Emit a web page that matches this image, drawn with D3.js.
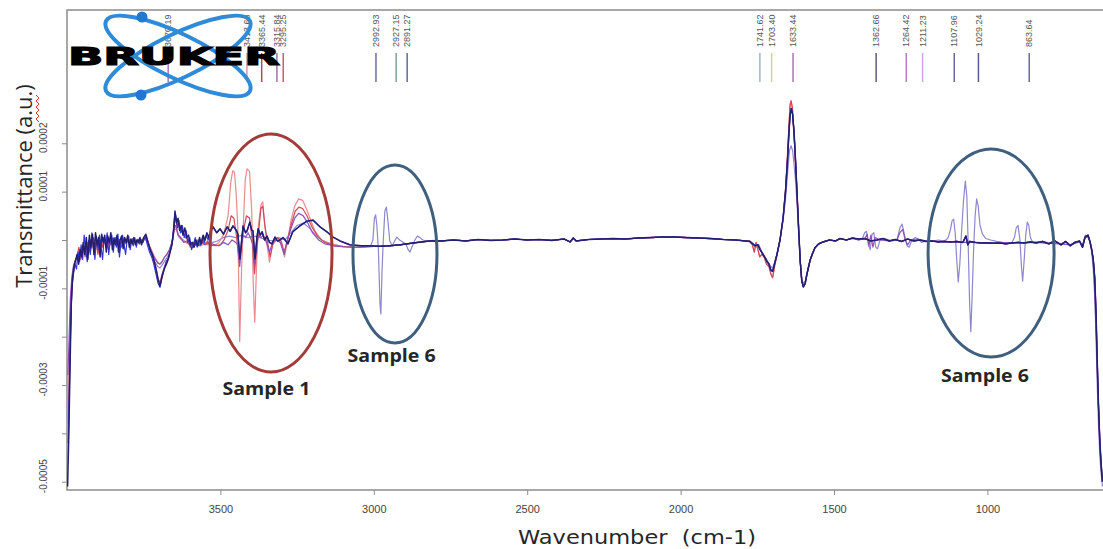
<!DOCTYPE html>
<html>
<head>
<meta charset="utf-8">
<script src="https://cdn.jsdelivr.net/npm/d3@7"></script>
<style>
  html, body { margin: 0; padding: 0; background: #fff; }
  svg { display: block; }
</style>
</head>
<body>
<svg width="1103" height="549"></svg>
<script>
// values are in units of 1e-4 a.u.
var UNIT = 1e-4;

var wnTicks = [3500, 3000, 2500, 2000, 1500, 1000];
var yTicks = [-5, -4, -3, -2, -1, 0, 1, 2];
var yTickLabels = ["-0.0005", "", "-0.0003", "", "-0.0001", "", "0.0001", "0.0002"];

var peakWn = [3670.19, 3413.68, 3365.44, 3315.84, 3295.25, 2992.93, 2927.15, 2891.27,
              1741.62, 1703.40, 1633.44, 1362.66, 1264.42, 1211.23, 1107.96, 1029.24, 863.64];
var peakColors = ["#a878b0", "#c9a0a8", "#a85050", "#a070b0", "#c86060", "#6c6ca0", "#7ea0a0", "#5c6ca0",
                  "#9ab8c4", "#f0c48c", "#b070b8", "#5a5a80", "#b080b8", "#d0a4dc", "#686890", "#5a5a90", "#6a6a98"];

// --- spectra, split into regions [wavenumber, value] ---
var navyLeft = [[3998,-5.1],[3994,-4.0],[3990,-2.6],[3986,-1.3],[3982,-0.8],[3977,-0.55],[3972,-0.42],[3967,-0.3],[3962,-0.5],[3957,-0.2],[3952,-0.35],[3947,-0.05],[3942,-0.3],[3937,0.05],[3932,-0.4],[3927,0.1],[3922,-0.15],[3917,0.12],[3912,-0.3],[3907,0.15],[3902,-0.1],[3897,0.05],[3892,-0.35],[3887,0.12],[3882,-0.05],[3877,0.1],[3872,-0.25],[3867,0.08],[3862,-0.05],[3857,0.15],[3852,-0.2],[3847,0.02],[3842,-0.1],[3837,0.1],[3832,-0.25],[3827,0.0],[3822,0.08],[3817,-0.18],[3812,0.05],[3807,-0.05],[3802,0.1],[3797,-0.15],[3792,0.02],[3787,-0.08],[3782,0.05],[3777,-0.1],[3772,0.0],[3767,-0.05],[3762,0.05],[3757,-0.1],[3750,0.05],[3743,0.12],[3736,-0.05],[3729,-0.2],[3722,-0.3],[3715,-0.45],[3708,-0.65],[3702,-0.85],[3697,-0.95],[3690,-0.75],[3683,-0.6],[3676,-0.5],[3670,-0.4],[3664,-0.25],[3658,-0.1],[3652,0.2],[3648,0.6],[3643,0.35],[3638,0.45],[3633,0.2],[3628,0.3],[3622,0.1],[3616,0.25],[3610,0.05],[3604,0.1],[3598,-0.1],[3592,-0.05],[3586,-0.15],[3580,0.0],[3574,-0.12],[3568,0.05],[3562,-0.08],[3556,0.1],[3550,0.0],[3544,0.15],[3538,0.05],[3532,0.2]];
var blueLeft = [[3996,-4.2],[3992,-3.0],[3988,-1.8],[3984,-1.0],[3979,-0.7],[3974,-0.5],[3969,-0.6],[3964,-0.25],[3959,-0.45],[3954,-0.1],[3949,-0.4],[3944,0.1],[3939,-0.2],[3934,-0.45],[3929,0.0],[3924,-0.3],[3919,0.15],[3914,-0.1],[3909,-0.4],[3904,0.08],[3899,-0.2],[3894,0.1],[3889,-0.15],[3884,-0.4],[3879,0.05],[3874,-0.1],[3869,0.15],[3864,-0.3],[3859,0.0],[3854,0.1],[3849,-0.25],[3844,0.05],[3839,-0.15],[3834,0.12],[3829,-0.35],[3824,-0.05],[3819,0.1],[3814,-0.1],[3809,-0.3],[3804,0.0],[3799,0.08],[3794,-0.2],[3789,0.0],[3784,-0.12],[3779,0.05],[3774,-0.15],[3769,0.02],[3764,-0.08],[3759,0.0],[3752,-0.05],[3745,0.08],[3738,-0.1],[3731,-0.25],[3724,-0.35],[3717,-0.5],[3710,-0.7],[3703,-0.9],[3697,-0.98],[3691,-0.8],[3684,-0.62],[3677,-0.45],[3670,-0.38],[3663,-0.2],[3656,0.0],[3650,0.45],[3645,0.5],[3640,0.25],[3635,0.4],[3630,0.15],[3624,0.3],[3618,0.05],[3612,0.2],[3606,-0.05],[3600,0.05],[3594,-0.2],[3588,-0.1],[3582,0.05],[3576,-0.15],[3570,0.0],[3564,-0.1],[3558,0.08],[3552,-0.05],[3546,0.1],[3540,0.0],[3532,0.15]];
var purpleLeft = [[3997,-2.8],[3993,-2.0],[3989,-1.2],[3984,-0.75],[3978,-0.5],[3970,-0.4],[3962,-0.25],[3954,-0.3],[3946,-0.1],[3938,-0.2],[3930,-0.05],[3922,-0.15],[3914,0.05],[3906,-0.1],[3898,0.0],[3890,-0.12],[3882,0.05],[3874,-0.08],[3866,0.0],[3858,-0.1],[3850,0.05],[3842,-0.05],[3834,0.0],[3826,-0.1],[3818,0.02],[3810,-0.06],[3802,0.0],[3794,-0.05],[3786,0.02],[3778,-0.04],[3770,0.0],[3760,-0.05],[3750,0.0],[3742,0.05],[3735,-0.05],[3728,-0.18],[3720,-0.3],[3712,-0.4],[3704,-0.48],[3697,-0.5],[3690,-0.45],[3682,-0.35],[3674,-0.3],[3666,-0.2],[3658,-0.05],[3651,0.3],[3645,0.3],[3638,0.1],[3630,0.05],[3620,-0.05],[3610,-0.02],[3600,-0.1],[3590,-0.15],[3580,-0.08],[3570,-0.12],[3560,-0.05],[3550,-0.1],[3540,-0.05],[3530,-0.12]];
var redLeft = [[3995,-3.5],[3990,-2.2],[3985,-1.1],[3980,-0.65],[3974,-0.45],[3968,-0.35],[3961,-0.15],[3955,-0.4],[3948,-0.1],[3941,-0.35],[3934,-0.05],[3927,-0.25],[3920,0.05],[3913,-0.2],[3906,-0.05],[3899,-0.3],[3892,0.0],[3885,-0.15],[3878,0.02],[3871,-0.2],[3864,-0.05],[3857,0.0],[3850,-0.12],[3843,0.05],[3836,-0.1],[3829,0.0],[3822,-0.15],[3815,0.02],[3808,-0.08],[3801,0.0],[3794,-0.1],[3787,0.02],[3780,-0.05],[3772,0.0],[3764,-0.08],[3756,0.0],[3748,0.02],[3740,0.05],[3733,-0.1],[3726,-0.25],[3718,-0.4],[3710,-0.6],[3703,-0.8],[3697,-0.88],[3690,-0.7],[3682,-0.55],[3675,-0.45],[3668,-0.35],[3660,-0.15],[3653,0.1],[3648,0.5],[3642,0.3],[3636,0.35],[3630,0.15],[3622,0.2],[3614,0.05],[3606,0.0],[3598,-0.15],[3590,-0.05],[3582,-0.1],[3574,0.0],[3566,-0.12],[3558,0.0],[3550,-0.1],[3542,-0.02],[3534,-0.12],[3526,-0.08]];
var salmonLeft = [[3994,-3.0],[3988,-1.6],[3982,-0.8],[3975,-0.5],[3966,-0.3],[3956,-0.2],[3946,-0.25],[3936,-0.1],[3926,-0.2],[3916,-0.05],[3906,-0.15],[3896,0.0],[3886,-0.1],[3876,-0.02],[3866,-0.1],[3856,0.0],[3846,-0.08],[3836,0.0],[3826,-0.05],[3816,0.02],[3806,-0.05],[3796,0.0],[3786,-0.04],[3776,0.0],[3766,-0.03],[3756,0.0],[3745,0.02],[3735,-0.08],[3725,-0.2],[3715,-0.35],[3705,-0.45],[3697,-0.5],[3688,-0.42],[3678,-0.32],[3668,-0.22],[3658,-0.05],[3650,0.25],[3643,0.2],[3635,0.05],[3625,0.0],[3612,-0.05],[3600,-0.1],[3588,-0.12],[3576,-0.1],[3564,-0.12],[3552,-0.08],[3540,-0.1]];
var lavLeft = [[3996,-3.8],[3991,-2.2],[3986,-1.1],[3980,-0.6],[3972,-0.4],[3962,-0.3],[3952,-0.15],[3942,-0.25],[3932,-0.1],[3922,-0.2],[3912,-0.05],[3902,-0.15],[3892,0.0],[3882,-0.1],[3872,0.02],[3862,-0.08],[3852,0.0],[3842,-0.06],[3832,0.02],[3822,-0.05],[3812,0.0],[3800,-0.04],[3788,0.02],[3776,-0.03],[3764,0.0],[3752,0.02],[3742,0.0],[3733,-0.12],[3724,-0.3],[3714,-0.45],[3704,-0.55],[3697,-0.58],[3688,-0.5],[3678,-0.4],[3668,-0.3],[3658,-0.1],[3650,0.3],[3644,0.25],[3636,0.1],[3625,0.02],[3612,-0.05],[3600,-0.08],[3585,-0.05],[3570,-0.1],[3555,-0.05],[3540,-0.08],[3525,-0.05]];

var navyS1 = [[3524,0.27],[3512,0.15],[3501,0.23],[3490,0.12],[3478,0.27],[3468,0.18],[3459,0.29],[3448,0.2],[3443,0.12],[3436,-0.39],[3430,0.05],[3426,0.29],[3418,0.15],[3413,0.19],[3404,0.37],[3398,0.2],[3394,0.19],[3387,-0.39],[3381,0.05],[3377,0.23],[3370,0.1],[3364,0.17],[3356,0.0],[3348,0.08],[3340,-0.05],[3332,-0.08],[3322,0.06],[3314,-0.02],[3306,0.0],[3296,0.05],[3289,0.0],[3280,-0.08],[3264,0.17],[3241,0.29],[3218,0.39],[3198,0.41],[3175,0.27],[3153,0.17],[3133,0.06],[3110,-0.02],[3078,-0.1],[3040,-0.12],[3012,-0.12],[2980,-0.13],[2950,-0.12],[2915,-0.1],[2870,-0.06],[2817,-0.02]];
var purpleS1 = [[3520,-0.1],[3505,-0.12],[3490,-0.05],[3475,-0.1],[3462,0.0],[3450,-0.05],[3443,-0.1],[3437,-0.55],[3431,-0.1],[3426,0.1],[3418,0.05],[3410,0.15],[3402,0.05],[3394,-0.1],[3388,-0.5],[3382,-0.1],[3376,0.1],[3368,0.05],[3360,0.1],[3350,-0.05],[3340,-0.25],[3330,-0.05],[3318,0.0],[3305,-0.05],[3292,-0.3],[3284,-0.05],[3272,0.2],[3258,0.45],[3245,0.55],[3230,0.5],[3215,0.35],[3200,0.15],[3180,0.0],[3160,-0.08],[3130,-0.12],[3100,-0.14],[3060,-0.15],[3020,-0.14],[2980,-0.13],[2950,-0.12],[2915,-0.1],[2870,-0.06],[2817,-0.02]];
var redS1 = [[3515,-0.12],[3500,-0.1],[3488,0.0],[3475,0.2],[3465,0.5],[3456,0.45],[3448,0.1],[3440,-0.4],[3433,-0.2],[3425,0.2],[3415,0.5],[3405,0.45],[3396,0.0],[3389,-0.7],[3382,-0.2],[3375,0.2],[3368,0.65],[3362,0.7],[3355,0.3],[3346,-0.05],[3338,-0.35],[3328,-0.05],[3315,0.05],[3302,-0.02],[3292,-0.25],[3283,-0.05],[3270,0.3],[3256,0.6],[3244,0.68],[3232,0.65],[3218,0.5],[3200,0.25],[3180,0.05],[3160,-0.05],[3130,-0.12],[3100,-0.14],[3060,-0.15],[3020,-0.14],[2980,-0.13],[2950,-0.12],[2915,-0.1],[2870,-0.06],[2817,-0.02]];
var salmonS1 = [[3530,-0.1],[3520,-0.12],[3505,-0.05],[3490,0.1],[3475,0.5],[3466,1.2],[3460,1.43],[3454,1.4],[3448,0.9],[3443,0.2],[3437,-2.1],[3431,-0.6],[3426,0.2],[3419,1.25],[3413,1.47],[3405,1.42],[3398,0.6],[3393,-0.9],[3388,-1.7],[3382,-0.5],[3376,0.3],[3368,0.72],[3362,0.79],[3356,0.35],[3348,-0.1],[3340,-0.46],[3331,-0.12],[3318,0.0],[3302,-0.05],[3291,-0.35],[3282,-0.05],[3270,0.4],[3258,0.7],[3245,0.85],[3232,0.82],[3220,0.65],[3208,0.45],[3193,0.2],[3170,0.0],[3140,-0.08],[3100,-0.14],[3060,-0.15],[3020,-0.14],[2980,-0.13],[2950,-0.12],[2915,-0.1],[2870,-0.06],[2817,-0.02]];
var lavS1 = [[3510,-0.02],[3490,0.05],[3470,0.08],[3450,0.05],[3430,0.1],[3410,0.05],[3390,0.08],[3370,0.05],[3350,0.0],[3330,-0.02],[3310,0.05],[3290,0.0],[3270,0.15],[3250,0.3],[3230,0.35],[3210,0.25],[3190,0.1],[3170,0.0],[3140,-0.08],[3100,-0.13],[3060,-0.15],[3025,-0.14],[3010,-0.12],[3003,0.0],[2998,0.45],[2994,0.52],[2990,0.3],[2985,-0.2],[2980,-1.3],[2977,-1.53],[2973,-0.6],[2969,0.0],[2964,0.6],[2959,0.68],[2954,0.4],[2948,-0.02],[2940,-0.12],[2932,-0.02],[2925,0.06],[2916,0.0],[2906,-0.04],[2896,-0.08],[2888,-0.2],[2882,-0.25],[2874,-0.12],[2866,0.0],[2858,0.08],[2850,0.05],[2840,0.0],[2825,-0.03],[2810,-0.01]];

var midFlat = [[2780,-0.02],[2740,0.0],[2700,-0.02],[2660,0.01],[2620,-0.01],[2580,0.0],[2540,0.02],[2500,0.0],[2460,0.01],[2420,-0.01],[2380,0.02],[2360,-0.04],[2350,0.04],[2340,-0.02],[2300,0.01],[2260,0.02],[2220,0.03],[2180,0.02],[2140,0.04],[2100,0.05],[2060,0.06],[2020,0.06],[1980,0.05],[1940,0.04],[1900,0.03],[1860,0.01],[1820,0.0],[1790,-0.02]];

var peakNavy = [[1775,-0.03],[1765,-0.08],[1757,-0.12],[1748,-0.1],[1741,-0.2],[1731,-0.3],[1724,-0.38],[1718,-0.45],[1712,-0.5],[1706,-0.62],[1700,-0.65],[1694,-0.5],[1686,-0.3],[1676,0.0],[1666,0.45],[1658,1.0],[1652,1.6],[1647,2.2],[1643,2.6],[1639,2.72],[1635,2.6],[1630,2.2],[1625,1.6],[1620,0.9],[1615,0.2],[1610,-0.45],[1605,-0.85],[1600,-0.97],[1594,-0.9],[1588,-0.7],[1578,-0.42],[1570,-0.28],[1562,-0.16],[1550,-0.08],[1535,-0.04],[1515,0.0],[1495,-0.02],[1480,0.03]];
var peakRed = [[1775,-0.02],[1766,-0.1],[1760,-0.25],[1754,-0.05],[1748,-0.2],[1742,-0.35],[1736,-0.3],[1728,-0.35],[1720,-0.5],[1712,-0.55],[1705,-0.72],[1700,-0.78],[1694,-0.55],[1686,-0.32],[1676,0.0],[1666,0.45],[1658,1.05],[1652,1.7],[1647,2.35],[1643,2.8],[1640,2.88],[1636,2.75],[1631,2.3],[1626,1.65],[1620,0.9],[1615,0.2],[1610,-0.45],[1605,-0.85],[1600,-0.95],[1594,-0.9],[1588,-0.7],[1578,-0.42],[1570,-0.28],[1562,-0.16],[1550,-0.08],[1535,-0.04],[1515,0.0],[1495,-0.02],[1480,0.03]];
var peakLav = [[1775,-0.02],[1765,-0.06],[1755,-0.15],[1745,-0.1],[1735,-0.25],[1725,-0.35],[1715,-0.45],[1706,-0.55],[1700,-0.58],[1693,-0.45],[1685,-0.28],[1676,0.0],[1666,0.4],[1658,0.85],[1651,1.4],[1645,1.85],[1640,1.95],[1635,1.85],[1630,1.55],[1625,1.2],[1620,0.7],[1615,0.1],[1610,-0.45],[1605,-0.8],[1600,-0.9],[1594,-0.85],[1588,-0.68],[1578,-0.42],[1570,-0.28],[1562,-0.16],[1550,-0.08],[1535,-0.04],[1515,0.0],[1495,-0.02],[1480,0.03]];

var tailNavy = [[1460,0.0],[1440,0.04],[1420,0.02],[1400,0.03],[1380,-0.02],[1360,0.0],[1340,0.03],[1320,-0.02],[1300,0.01],[1280,-0.03],[1260,0.02],[1240,-0.02],[1220,0.0],[1200,-0.03],[1180,-0.02],[1160,-0.04],[1140,-0.03],[1120,-0.04],[1100,-0.03],[1080,-0.05],[1070,0.08],[1064,-0.1],[1058,-0.03],[1040,-0.05],[1020,-0.06],[1000,-0.06],[980,-0.07],[960,-0.06],[940,-0.08],[920,-0.06],[900,-0.05],[880,-0.06],[860,-0.04],[840,-0.06],[820,-0.03],[800,-0.08],[780,-0.02],[760,-0.1],[745,-0.03],[730,-0.12],[715,-0.05],[700,-0.02],[690,-0.15],[682,0.05],[672,0.1],[665,-0.05],[660,-0.2],[655,-0.4],[650,-0.8],[646,-1.5],[642,-2.5],[638,-3.4],[634,-4.1],[630,-4.6],[625,-5.0]];
var tailPurple = [[1460,0.0],[1440,0.03],[1420,0.0],[1400,0.02],[1392,0.12],[1386,-0.12],[1380,0.1],[1373,-0.15],[1366,0.05],[1350,0.0],[1320,-0.02],[1295,0.0],[1285,0.15],[1276,0.22],[1268,0.0],[1260,-0.1],[1250,0.0],[1230,0.02],[1200,-0.02],[1160,-0.03],[1120,-0.04],[1080,-0.05],[1040,-0.05],[1000,-0.06],[960,-0.06],[920,-0.06],[880,-0.06],[840,-0.05],[800,-0.07],[760,-0.08],[730,-0.1],[700,-0.04],[690,-0.1],[680,0.1],[670,0.05],[662,-0.15],[656,-0.4],[651,-0.9],[646,-1.8],[641,-2.9],[636,-3.8],[630,-4.5],[625,-5.0]];
var tailLav = [[1460,0.0],[1440,0.03],[1420,0.0],[1408,0.02],[1400,0.15],[1394,0.18],[1388,-0.1],[1382,-0.2],[1376,0.12],[1370,0.15],[1364,-0.15],[1358,-0.18],[1350,0.0],[1330,0.02],[1310,-0.02],[1295,0.0],[1285,0.25],[1278,0.33],[1270,0.1],[1262,-0.12],[1255,-0.15],[1246,0.0],[1235,0.05],[1225,0.02],[1215,-0.05],[1200,-0.02],[1180,-0.03],[1160,0.0],[1145,-0.02],[1135,0.0],[1128,0.05],[1121,0.2],[1115,0.4],[1110,0.43],[1105,0.15],[1100,-0.4],[1095,-0.87],[1090,-0.5],[1084,0.2],[1078,0.8],[1072,1.22],[1067,0.9],[1063,0.0],[1058,-1.3],[1054,-1.9],[1050,-1.2],[1045,-0.2],[1040,0.5],[1035,0.85],[1030,0.7],[1024,0.3],[1016,0.12],[1005,0.03],[990,0.0],[970,-0.03],[950,-0.05],[930,-0.06],[920,-0.05],[912,0.05],[906,0.25],[900,0.3],[894,0.0],[889,-0.55],[885,-0.85],[880,-0.4],[875,0.1],[870,0.37],[865,0.3],[860,0.05],[852,-0.05],[840,-0.04],[820,-0.03],[800,-0.06],[780,-0.03],[760,-0.08],[745,-0.04],[730,-0.1],[715,-0.05],[700,-0.03],[690,-0.12],[682,0.08],[672,0.05],[665,-0.05],[660,-0.25],[655,-0.6],[650,-1.2],[646,-2.0],[642,-3.0],[638,-3.8],[634,-4.4],[630,-4.8],[625,-5.1]];

// samples, drawn in this order (last on top)
var sampleNames = ["Sample 6", "Sample 1", "Sample 2", "Sample 3", "Sample 4", "Sample 5"];
var sampleData = [
    lavLeft.concat(lavS1, midFlat, peakLav, tailLav),
    salmonLeft.concat(salmonS1, midFlat, peakRed, tailNavy),
    redLeft.concat(redS1, midFlat, peakRed, tailNavy),
    purpleLeft.concat(purpleS1, midFlat, peakNavy, tailPurple),
    blueLeft.concat(navyS1, midFlat, peakNavy, tailNavy),
    navyLeft.concat(navyS1, midFlat, peakNavy, tailNavy)
];
var sampleColors = ["#8c88cc", "#e88a8e", "#cc4a5c", "#8e4fb5", "#3535d5", "#22206e"];
var sampleWidths = [1.2, 1.2, 1.2, 1.2, 1.2, 1.5];

// annotation ellipses and labels (centre in data units)
var noteWn = [3335, 2931, 988];
var noteVal = [-0.27, -0.29, -0.27];
var noteRx = [61, 42, 63];
var noteRy = [119, 89, 104];
var noteColors = ["#a33c38", "#3f5f7f", "#3f5f7f"];
var labelWn = [3350, 2942, 1008];
var labelVal = [-3.2, -2.52, -2.93];
var labelText = ["Sample 1", "Sample 6", "Sample 6"];

(function () {
    var svg = d3.select("svg");
    var left = 67, top = 10, bottom = 490;
    var pxPerWn = 0.3068;

    var x = d3.scaleLinear().domain([4000, 600]).range([left, left + 3400 * pxPerWn]);
    var y = d3.scaleLinear().domain([-5 * UNIT, 2 * UNIT]).range([481.7, 143.3]);

    svg.append("defs").append("clipPath").attr("id", "plotclip")
        .append("rect").attr("x", left).attr("y", top).attr("width", 1110 - left).attr("height", bottom - top);

    // frame
    svg.append("rect")
        .attr("x", left).attr("y", top)
        .attr("width", 1200).attr("height", bottom - top)
        .attr("fill", "none").attr("stroke", "#8c8c8c").attr("stroke-width", 1.5);

    // x axis
    var gx = svg.append("g")
        .attr("transform", "translate(0," + bottom + ")")
        .call(d3.axisBottom(x).tickValues(wnTicks).tickSize(5).tickPadding(10).tickFormat(d3.format("d")));
    gx.select(".domain").remove();
    gx.selectAll("line").attr("stroke", "#8c8c8c");
    gx.selectAll("text").attr("fill", "#444").attr("font-size", 11)
        .attr("font-family", "'Liberation Sans Narrow', 'Liberation Sans', Arial, sans-serif");

    // y axis
    var gy = svg.append("g")
        .attr("transform", "translate(" + left + ",0)")
        .call(d3.axisLeft(y).tickValues(yTicks.map(function (d) { return d * UNIT; })).tickSize(5)
            .tickFormat(function (d, i) { return yTickLabels[i]; }));
    gy.select(".domain").remove();
    gy.selectAll("line").attr("stroke", "#8c8c8c");
    gy.selectAll("text")
        .attr("x", null).attr("dy", "0.35em")
        .attr("transform", "translate(-24,-6) rotate(-90)")
        .attr("text-anchor", "middle")
        .attr("fill", "#444").attr("font-size", 10)
        .attr("font-family", "'Liberation Sans Narrow', 'Liberation Sans', Arial, sans-serif");

    // spectra
    var line = d3.line()
        .x(function (d) { return x(d[0]); })
        .y(function (d) { return y(d[1] * UNIT); });

    svg.append("g").attr("clip-path", "url(#plotclip)")
        .selectAll("path")
        .data(sampleData)
        .enter().append("path")
        .attr("d", line)
        .attr("fill", "none")
        .attr("stroke", function (d, i) { return sampleColors[i]; })
        .attr("stroke-width", function (d, i) { return sampleWidths[i]; })
        .attr("stroke-linejoin", "round");

    // peak markers
    var peaks = svg.append("g").selectAll("g")
        .data(peakWn)
        .enter().append("g");
    peaks.append("line")
        .attr("x1", function (d) { return x(d); }).attr("x2", function (d) { return x(d); })
        .attr("y1", 53).attr("y2", 82)
        .attr("stroke", function (d, i) { return peakColors[i]; })
        .attr("stroke-width", 1.5);
    peaks.append("text")
        .attr("transform", function (d) { return "translate(" + x(d) + ",47) rotate(-90)"; })
        .attr("dy", "0.35em")
        .attr("fill", "#555")
        .attr("font-size", 9)
        .attr("font-family", "'Liberation Sans Narrow', 'Liberation Sans', Arial, sans-serif")
        .text(function (d) { return d.toFixed(2); });

    // annotations
    svg.append("g").selectAll("ellipse")
        .data(noteWn)
        .enter().append("ellipse")
        .attr("cx", function (d) { return x(d); })
        .attr("cy", function (d, i) { return y(noteVal[i] * UNIT); })
        .attr("rx", function (d, i) { return noteRx[i]; })
        .attr("ry", function (d, i) { return noteRy[i]; })
        .attr("fill", "none")
        .attr("stroke", function (d, i) { return noteColors[i]; })
        .attr("stroke-width", 3);

    svg.append("g").selectAll("text")
        .data(labelText)
        .enter().append("text")
        .attr("x", function (d, i) { return x(labelWn[i]); })
        .attr("y", function (d, i) { return y(labelVal[i] * UNIT); })
        .attr("text-anchor", "middle")
        .attr("font-family", "'Open Sans', 'Noto Sans', sans-serif")
        .attr("font-weight", "bold")
        .attr("font-size", 18)
        .attr("textLength", 88).attr("lengthAdjust", "spacingAndGlyphs")
        .attr("fill", "#262626")
        .text(function (d) { return d; });

    // Bruker logo
    var logo = svg.append("g");
    [-26, 26].forEach(function (a) {
        logo.append("ellipse")
            .attr("cx", 178).attr("cy", 56).attr("rx", 80).attr("ry", 22)
            .attr("transform", "rotate(" + a + ",178,56)")
            .attr("fill", "none").attr("stroke", "#2f8ad8").attr("stroke-width", 4);
    });
    logo.append("circle").attr("cx", 142).attr("cy", 17).attr("r", 5.5).attr("fill", "#1f78d1");
    logo.append("circle").attr("cx", 141).attr("cy", 95).attr("r", 5.5).attr("fill", "#1f78d1");
    logo.append("text")
        .attr("x", 68).attr("y", 65)
        .attr("textLength", 212).attr("lengthAdjust", "spacingAndGlyphs")
        .attr("font-family", "'DejaVu Sans', sans-serif").attr("font-weight", "bold")
        .attr("font-size", 25).attr("fill", "#000")
        .attr("stroke", "#000").attr("stroke-width", 1.2)
        .text("BRUKER");

    // axis titles
    svg.append("text")
        .attr("transform", "translate(32,186) rotate(-90)")
        .attr("text-anchor", "middle")
        .attr("font-family", "'Open Sans', 'Noto Sans', sans-serif")
        .attr("font-size", 22).attr("fill", "#262626")
        .text("Transmittance (a.u.)");
    // red spell-check squiggle under "a.u."
    var sq = d3.range(0, 10).map(function (i) { return [i % 2 ? 39 : 36, 95 + i * 3]; });
    svg.append("path").attr("d", d3.line()(sq))
        .attr("fill", "none").attr("stroke", "#e03030").attr("stroke-width", 1);

    svg.append("text")
        .attr("x", 637).attr("y", 544)
        .attr("text-anchor", "middle")
        .attr("font-family", "'DejaVu Sans', sans-serif")
        .attr("font-size", 20).attr("fill", "#262626")
        .attr("textLength", 238).attr("lengthAdjust", "spacingAndGlyphs")
        .style("white-space", "pre")
        .text("Wavenumber  (cm-1)");
}());
</script>
</body>
</html>
